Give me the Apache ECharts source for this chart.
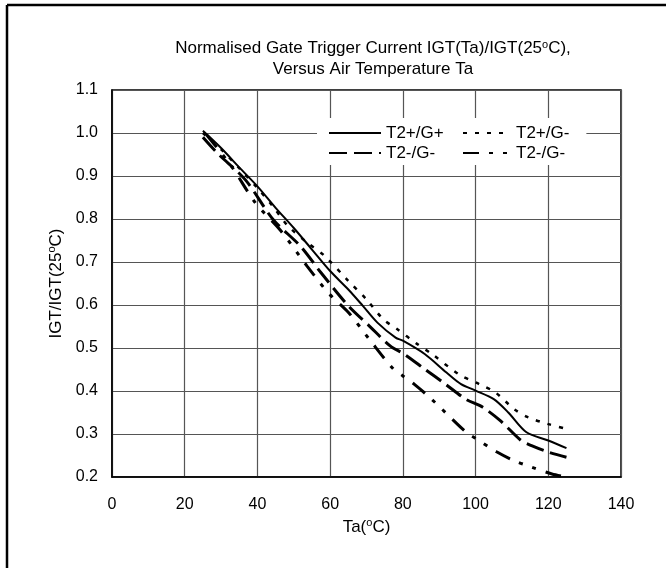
<!DOCTYPE html>
<html>
  <head>
    <meta charset="utf-8" />
    <title></title>
    <style>
      body {
        margin: 0;
        padding: 0;
        background: #fff;
      }
      #chart {
        width: 666px;
        height: 568px;
      }
    </style>
    <script src="https://cdn.jsdelivr.net/npm/echarts@6/dist/echarts.min.js"></script>
  </head>

  <body>
    <div id="chart"></div>
  </body>
  <script>
    // values
    let xTicks = [0, 20, 40, 60, 80, 100, 120, 140];
    let yTicks = [0.2, 0.3, 0.4, 0.5, 0.6, 0.7, 0.8, 0.9, 1.0, 1.1];

    // T2+/G+ (solid)
    let taSolid = [25, 30, 35, 40, 45, 50, 55, 60, 65, 69, 73, 78, 80, 86, 92, 96, 100, 105, 109, 114, 120, 125];
    let igtSolid = [1.005, 0.965, 0.92, 0.876, 0.826, 0.779, 0.729, 0.679, 0.636, 0.598, 0.559, 0.524, 0.517, 0.486, 0.443, 0.416, 0.401, 0.381, 0.35, 0.304, 0.285, 0.267];

    // T2+/G- (dotted)
    let taDot = [25, 30, 35, 40, 44, 48.5, 53.7, 58.5, 65, 70, 74.6, 78.4, 84, 88, 95.4, 101, 105.4, 110.6, 114.4, 120, 125];
    let igtDot = [1.0, 0.962, 0.918, 0.872, 0.832, 0.783, 0.745, 0.714, 0.656, 0.613, 0.567, 0.544, 0.509, 0.486, 0.439, 0.416, 0.397, 0.358, 0.339, 0.323, 0.312];

    // T2-/G- (long dash)
    let taDash = [25, 29, 36.7, 44.3, 51.8, 57.5, 65, 70.8, 76.5, 80.3, 86, 91.7, 97.3, 102, 106.8, 112.5, 115.4, 120, 125];
    let igtDash = [0.99, 0.953, 0.891, 0.799, 0.737, 0.675, 0.598, 0.551, 0.505, 0.486, 0.451, 0.416, 0.381, 0.362, 0.331, 0.285, 0.273, 0.258, 0.246];

    // T2-/G- (dash dot dot)
    let taDashDot = [26, 32.9, 39.5, 46.2, 53.7, 59.4, 65.1, 70.8, 77.4, 80, 83.1, 87.9, 97.4, 100.2, 105.9, 110.6, 115.4, 121, 125];
    let igtDashDot = [0.996, 0.922, 0.837, 0.775, 0.69, 0.629, 0.582, 0.52, 0.451, 0.435, 0.416, 0.381, 0.304, 0.289, 0.258, 0.238, 0.223, 0.207, 0.2];

    function pairs(xs, ys) {
      return xs.map((x, i) => [x, ys[i]]);
    }

    const font = "'Liberation Sans', Arial, sans-serif";
    const sup = { fontSize: 11, fontFamily: font, color: "#000", padding: [0, 0, 8, 0] };

    function line(name, xs, ys, width, type) {
      return {
        name: name,
        type: "line",
        data: pairs(xs, ys),
        smooth: 0.3,
        symbol: "none",
        lineStyle: { color: "#000", width: width, type: type },
        itemStyle: { color: "#000" },
      };
    }

    function legend(left, names, itemWidth, padding) {
      return {
        left: left,
        top: 118,
        orient: "vertical",
        itemWidth: itemWidth,
        itemHeight: 14,
        itemGap: 2,
        padding: padding,
        backgroundColor: "#fff",
        data: names,
        formatter: (n) => n.trim(),
        itemStyle: { color: "transparent", borderColor: "transparent", borderWidth: 0 },
        textStyle: { fontFamily: font, fontSize: 17, color: "#000", lineHeight: 18 },
      };
    }

    let myChart = echarts.init(document.getElementById("chart"));
    myChart.setOption({
      animation: false,
      title: {
        text: "Normalised Gate Trigger Current IGT(Ta)/IGT(25{s|o}C),\nVersus Air Temperature Ta",
        left: 368,
        textAlign: "center",
        top: 33,
        textStyle: {
          fontFamily: font,
          fontSize: 17,
          fontWeight: "normal",
          color: "#000",
          lineHeight: 21,
          rich: { s: sup },
        },
      },
      legend: [
        legend(317, ["T2+/G+", "T2-/G-"], 52, [6, 11, 3, 11]),
        legend(454, ["T2+/G-", "T2-/G- "], 48, [6, 17, 3, 8]),
      ],
      grid: {
        left: 112,
        top: 90,
        right: 45,
        bottom: 91,
        show: true,
        borderColor: "#000",
        borderWidth: 1.5,
      },
      xAxis: {
        type: "value",
        min: xTicks[0],
        max: xTicks[xTicks.length - 1],
        interval: 20,
        name: "Ta({s|o}C)",
        nameLocation: "middle",
        nameGap: 40,
        nameTextStyle: { fontFamily: font, fontSize: 17, color: "#000", rich: { s: sup } },
        axisLine: { lineStyle: { color: "#000", width: 1.5 } },
        axisTick: { show: false },
        axisLabel: { margin: 20, fontFamily: font, fontSize: 16, color: "#000" },
        splitLine: { lineStyle: { color: "#555", width: 1.2 } },
      },
      yAxis: {
        type: "value",
        min: yTicks[0],
        max: yTicks[yTicks.length - 1],
        interval: 0.1,
        name: "IGT/IGT(25{s|o}C)",
        nameLocation: "middle",
        nameGap: 46,
        nameTextStyle: { fontFamily: font, fontSize: 17, color: "#000", rich: { s: sup } },
        axisLine: { show: true, lineStyle: { color: "#000", width: 1.5 } },
        axisTick: { show: false },
        axisLabel: {
          margin: 14,
          fontFamily: font,
          fontSize: 16,
          color: "#000",
          formatter: (v) => v.toFixed(1),
        },
        splitLine: { lineStyle: { color: "#555", width: 1.2 } },
      },
      graphic: [
        { type: "line", shape: { x1: 7, y1: 5, x2: 666, y2: 5 }, style: { stroke: "#000", lineWidth: 2.5 } },
        { type: "line", shape: { x1: 7, y1: 5, x2: 7, y2: 568 }, style: { stroke: "#000", lineWidth: 2.5 } },
      ],
      series: [
        line("T2+/G+", taSolid, igtSolid, 2, "solid"),
        line("T2+/G-", taDot, igtDot, 2.5, [4, 8]),
        line("T2-/G-", taDash, igtDash, 3, [18, 7]),
        line("T2-/G- ", taDashDot, igtDashDot, 3, [16, 10, 4, 10, 4, 10]),
      ],
    });
  </script>
</html>
